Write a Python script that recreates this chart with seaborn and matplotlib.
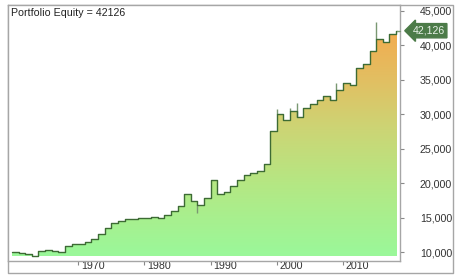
import numpy as np
import pandas as pd
import matplotlib
matplotlib.use("Agg")
import matplotlib.pyplot as plt
import matplotlib.transforms as mtransforms
from matplotlib.colors import LinearSegmentedColormap
from matplotlib.patches import Polygon
import seaborn as sns

# ---------------- data ----------------
years = list(range(1960, 2019))
equity = [9950, 9800, 9660, 9420, 10150, 10290, 10150, 10040, 10910, 11160,
          11160, 11410, 11890, 12660, 13440, 14160, 14500, 14790, 14750, 14890,
          14890, 15130, 14890, 15370, 15950, 16720, 18380, 17350, 16820, 17880,
          20450, 18400, 18700, 19630, 20450, 21180, 21420, 21760, 22730, 27570,
          29990, 29170, 30480, 29650, 30860, 31440, 32070, 32700, 32070, 33520,
          34580, 34250, 36670, 37250, 39180, 40920, 40540, 41610, 42126]
spike_years = [1988, 2000, 2002, 2003, 2008, 2009, 2015]
spike_values = [15620, 30760, 30900, 31590, 32700, 34490, 43440]
ytick_values = [10000, 15000, 20000, 25000, 30000, 35000, 40000, 45000]
xtick_years = [1970, 1980, 1990, 2000, 2010]
title_text = "Portfolio Equity = 42126"
last_value = 42126

# ---------------- figure ----------------
sns.set_theme(style="white")
plt.rcParams['font.family'] = ['Liberation Sans', 'DejaVu Sans']
W, H, DPI = 463, 280, 100
fig = plt.figure(figsize=(W / DPI, H / DPI), dpi=DPI)
fig.patch.set_facecolor("white")

# background axes for the outer frame
bg = fig.add_axes([0, 0, 1, 1])
bg.set_xlim(0, W)
bg.set_ylim(H, 0)
bg.axis("off")
frame_c = "#a6a6a6"
bg.plot([8, 453, 453, 8, 8], [5, 5, 273.3, 273.3, 5], color=frame_c, lw=1.0)

L, R, T, B = 8, 400, 5, 260.7
ax = fig.add_axes([L / W, (H - B) / H, (R - L) / W, (B - T) / H])
ax.set_facecolor("white")

end_x = years[-1] + 0.15
df = pd.DataFrame({"year": years + [end_x], "equity": equity + [equity[-1]]})

ax.set_xlim(1959.4, 2018.6)
ax.set_ylim(8740, 45860)

# gradient fill under step line
xs = np.repeat(df["year"].values, 2)[1:]
ys = np.repeat(df["equity"].values, 2)[:-1]
base = min(equity)
poly_pts = np.column_stack([np.r_[xs[0], xs, xs[-1]], np.r_[base, ys, base]])
poly = Polygon(poly_pts, closed=True, facecolor="none", edgecolor="none")
ax.add_patch(poly)
cmap = LinearSegmentedColormap.from_list(
    "eq", [(0.0, "#9af89a"), (0.3, "#b4e884"), (0.55, "#cdd474"),
           (0.75, "#e2bf62"), (1.0, "#f6a84c")])
grad = np.linspace(0, 1, 256).reshape(-1, 1)
im = ax.imshow(grad, cmap=cmap, aspect="auto", origin="lower",
               extent=[df["year"].min(), end_x, base, max(spike_values)],
               zorder=1)
im.set_clip_path(poly)

# spikes
ax.vlines(spike_years, [equity[years.index(y)] for y in spike_years],
          spike_values, color="#7a9872", lw=1.0, zorder=2)

# step line
sns.lineplot(data=df, x="year", y="equity", drawstyle="steps-post",
             color="#3d6b34", lw=1.0, ax=ax, zorder=3)
ax.set_xlim(1959.4, 2018.6)
ax.set_ylim(8740, 45860)
ax.set_xlabel("")
ax.set_ylabel("")

for s in ax.spines.values():
    s.set_color(frame_c)
    s.set_linewidth(1.0)

# y axis on the right
ax.yaxis.tick_right()
ax.set_yticks(ytick_values)
ax.set_yticklabels([f"{v:,}" for v in ytick_values])
ax.tick_params(axis="y", which="major", direction="out", length=3, width=0.8,
               color="#888888", labelsize=7.7, labelcolor="#333333",
               pad=34.5, right=True, left=False)
for lab in ax.get_yticklabels():
    lab.set_horizontalalignment("right")

# x axis
ax.set_xticks(xtick_years)
ax.set_xticklabels([str(y) for y in xtick_years])
ax.tick_params(axis="x", which="major", direction="out", length=3, width=0.8,
               color="#888888", labelsize=7.7, labelcolor="#333333",
               pad=-2.5, bottom=True)
off = mtransforms.ScaledTranslation(2 / 72, 0, fig.dpi_scale_trans)
for lab in ax.get_xticklabels():
    lab.set_horizontalalignment("left")
    lab.set_transform(lab.get_transform() + off)

# title
ax.text(3 / (R - L), 1 - 3 / (B - T), title_text, transform=ax.transAxes,
        ha="left", va="top", fontsize=7.7, color="#222222")

# last value label
ax.plot([end_x, 2018.6], [last_value, last_value], color="#7a9872", lw=1.0,
        clip_on=False, zorder=3)
ax.annotate(f"{last_value:,}", xy=(1.0, last_value),
            xycoords=("axes fraction", "data"),
            xytext=(9, 0), textcoords="offset points",
            ha="left", va="center", fontsize=7.7, color="#e8f2e8",
            bbox=dict(boxstyle="larrow,pad=0.2", fc="#4c7b48", ec="#4c7b48"),
            annotation_clip=False, zorder=5)

fig.savefig("out.png", dpi=DPI, facecolor="white")
